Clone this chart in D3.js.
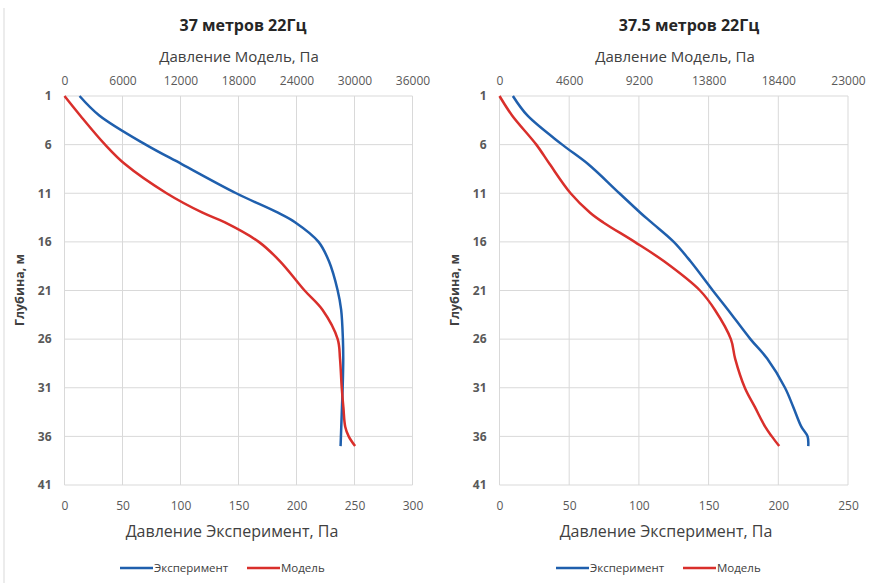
<!DOCTYPE html>
<html>
<head>
<meta charset="utf-8">
<script src="https://cdn.jsdelivr.net/npm/d3@7/dist/d3.min.js"></script>
<style>
  body { margin: 0; background: #fff; }
  svg { display: block; font-family: "Open Sans", "Noto Sans", sans-serif; }
</style>
</head>
<body>
<svg id="chart" width="873" height="583"></svg>
<script>
// depth points, m (same for all series)
const depths = [1, 3, 6, 8, 11, 13, 14, 16, 18, 21, 23, 26, 28, 31, 33, 35, 36, 37];

// 37 m panel: experiment on bottom axis, model on top axis (Pa)
const exp37   = [13, 30, 70, 101, 148, 184, 199, 219, 228, 235.5, 238.5, 240, 240.3, 239.8, 239.2, 238.6, 238.3, 238];
const model37 = [0, 1620, 4200, 6250, 10560, 14280, 16600, 20100, 22300, 24840, 26700, 28260, 28500, 28680, 28850, 29040, 29400, 30060];

// 37.5 m panel
const exp375   = [9.6, 20, 45, 63.5, 86, 101, 109, 125, 137, 153, 164, 180, 192, 204.8, 210.8, 216.5, 221, 221.5];
const model375 = [0, 830, 2430, 3310, 4690, 5980, 6850, 8920, 10860, 13230, 14220, 15270, 15550, 16190, 16860, 17530, 17970, 18460];

const depthTicks    = [1, 6, 11, 16, 21, 26, 31, 36, 41];
const expTicks37    = [0, 50, 100, 150, 200, 250, 300];
const modelTicks37  = [0, 6000, 12000, 18000, 24000, 30000, 36000];
const expTicks375   = [0, 50, 100, 150, 200, 250];
const modelTicks375 = [0, 4600, 9200, 13800, 18400, 23000];

const seriesNames = ['Эксперимент', 'Модель'];
const colors = ['#1f5fad', '#d92f2b'];

const svg = d3.select('#chart');

// faint frame line on the left edge
svg.append('line').attr('x1', 4).attr('x2', 4).attr('y1', 8).attr('y2', 583)
  .attr('stroke', '#d9d9d9');

function drawPanel(cfg) {
  const x = d3.scaleLinear().domain(d3.extent(cfg.expTicks)).range([cfg.left, cfg.right]);
  const xTop = d3.scaleLinear().domain(d3.extent(cfg.modelTicks)).range([cfg.left, cfg.right]);
  const y = d3.scaleLinear().domain([1, 41]).range([96, 485]);

  const g = svg.append('g');

  // grid
  g.selectAll('.vgrid').data(cfg.expTicks).enter().append('line')
    .attr('x1', d => x(d)).attr('x2', d => x(d))
    .attr('y1', y(1)).attr('y2', y(41))
    .attr('stroke', '#d9d9d9').attr('stroke-width', 1);
  g.selectAll('.hgrid').data(depthTicks).enter().append('line')
    .attr('x1', cfg.left).attr('x2', cfg.right)
    .attr('y1', d => y(d)).attr('y2', d => y(d))
    .attr('stroke', '#d9d9d9').attr('stroke-width', 1);

  // axes (labels only)
  const axB = g.append('g').attr('transform', `translate(0,${y(41) + 13})`)
    .call(d3.axisBottom(x).tickValues(cfg.expTicks).tickSize(0).tickFormat(d3.format('d')));
  const axT = g.append('g').attr('transform', `translate(0,${y(1) - 8})`)
    .call(d3.axisTop(xTop).tickValues(cfg.modelTicks).tickSize(0).tickFormat(d3.format('d')));
  const axL = g.append('g').attr('transform', `translate(${cfg.left - 10},0)`)
    .call(d3.axisLeft(y).tickValues(depthTicks).tickSize(0).tickFormat(d3.format('d')));
  [axB, axT, axL].forEach(a => {
    a.select('.domain').remove();
    a.selectAll('text').attr('fill', '#595959').style('font-size', '12px')
      .style('font-family', '"Open Sans", sans-serif');
  });
  axL.selectAll('text').style('font-weight', 'bold');

  // curves
  const lineExp = d3.line().curve(d3.curveCatmullRom.alpha(0.5))
    .x(d => x(d[1])).y(d => y(d[0]));
  const lineMod = d3.line().curve(d3.curveCatmullRom.alpha(0.5))
    .x(d => xTop(d[1])).y(d => y(d[0]));

  g.append('path').datum(d3.zip(depths, cfg.exp))
    .attr('d', lineExp).attr('fill', 'none')
    .attr('stroke', colors[0]).attr('stroke-width', 2.5);
  g.append('path').datum(d3.zip(depths, cfg.model))
    .attr('d', lineMod).attr('fill', 'none')
    .attr('stroke', colors[1]).attr('stroke-width', 2.5);

  // titles
  g.append('text').attr('x', cfg.titleX).attr('y', 31)
    .attr('text-anchor', 'middle').attr('fill', '#262626')
    .style('font-size', '16px').style('font-weight', 'bold')
    .text(cfg.title);
  g.append('text').attr('x', cfg.topTitleX).attr('y', 62)
    .attr('text-anchor', 'middle').attr('fill', '#404040')
    .style('font-size', '15px')
    .text('Давление Модель, Па');
  g.append('text').attr('x', cfg.botTitleX).attr('y', 537)
    .attr('text-anchor', 'middle').attr('fill', '#404040')
    .style('font-size', '16px')
    .text('Давление Эксперимент, Па');
  g.append('text')
    .attr('transform', `translate(${cfg.left - 41},290) rotate(-90)`)
    .attr('text-anchor', 'middle').attr('fill', '#404040')
    .style('font-size', '12.5px').style('font-weight', 'bold')
    .text('Глубина, м');

  // legend
  const leg = g.append('g').attr('transform', `translate(${cfg.legendX},568)`);
  const offs = [0, 127];
  seriesNames.forEach((name, i) => {
    leg.append('line').attr('x1', offs[i]).attr('x2', offs[i] + 33)
      .attr('y1', 0).attr('y2', 0)
      .attr('stroke', colors[i]).attr('stroke-width', 2.5);
    leg.append('text').attr('x', offs[i] + 34).attr('y', 4)
      .attr('fill', '#404040').style('font-size', '11.5px')
      .text(name);
  });
}

drawPanel({
  title: '37 метров 22Гц', left: 64.5, right: 412.5,
  exp: exp37, model: model37, expTicks: expTicks37, modelTicks: modelTicks37,
  titleX: 243, topTitleX: 239, botTitleX: 232, legendX: 120
});
drawPanel({
  title: '37.5 метров 22Гц', left: 499.5, right: 848,
  exp: exp375, model: model375, expTicks: expTicks375, modelTicks: modelTicks375,
  titleX: 689, topTitleX: 675, botTitleX: 666, legendX: 556
});
</script>
</body>
</html>
